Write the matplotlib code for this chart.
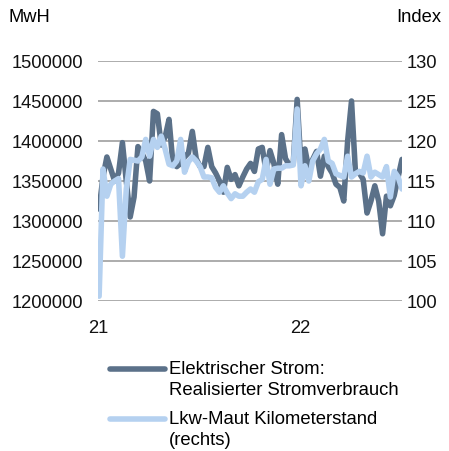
import matplotlib
matplotlib.use("Agg")
import matplotlib.pyplot as plt
from matplotlib.lines import Line2D
import pandas as pd

# weekly values, Jan 2021 - Jun 2022
weeks = pd.date_range("2021-01-03", periods=79, freq="W")

strom = [
    1315000, 1355000, 1380000, 1365000, 1350000, 1360000, 1398000, 1350000,
    1305000, 1330000, 1393000, 1385000, 1375000, 1350000, 1437000, 1434000,
    1395000, 1405000, 1427000, 1372000, 1368000, 1372000, 1380000, 1385000,
    1412000, 1378000, 1368000, 1368000, 1392000, 1368000, 1360000, 1350000,
    1336000, 1367000, 1352000, 1358000, 1344000, 1355000, 1365000, 1372000,
    1362000, 1390000, 1392000, 1362000, 1388000, 1372000, 1346000, 1408000,
    1378000, 1370000, 1372000, 1452000, 1368000, 1390000, 1365000, 1377000,
    1387000, 1356000, 1381000, 1368000, 1360000, 1346000, 1342000, 1325000,
    1400000, 1450000, 1362000, 1360000, 1352000, 1310000, 1325000, 1344000,
    1325000, 1284000, 1331000, 1319000, 1332000, 1355000, 1377000,
]

maut = [
    100.6, 116.5, 113.1, 114.6, 115.0, 115.3, 105.6, 114.0,
    117.7, 117.6, 117.5, 118.0, 120.2, 118.1, 120.2, 119.2,
    120.6, 119.0, 117.1, 116.9, 117.5, 120.2, 116.1, 117.4,
    118.0, 117.5, 116.8, 115.5, 115.5, 115.4, 114.2, 113.6,
    114.4, 113.5, 112.8, 113.4, 113.1, 113.1, 113.6, 114.0,
    113.6, 114.9, 115.2, 117.7, 114.6, 116.5, 116.6, 116.6,
    116.9, 116.9, 117.0, 124.0, 114.4, 116.9, 115.0, 117.5,
    118.4, 119.0, 120.2, 117.5, 117.2, 115.9, 115.7, 115.5,
    118.1, 115.5, 115.9, 116.2, 116.0, 118.1, 115.5, 116.1,
    115.8, 115.5, 116.8, 113.0, 116.2, 115.5, 114.0,
]

left_ticks = [1200000, 1250000, 1300000, 1350000, 1400000, 1450000, 1500000]
right_ticks = [100, 105, 110, 115, 120, 125, 130]
year_ticks = pd.to_datetime(["2021-01-01", "2022-01-01"])
year_labels = ["21", "22"]

dark = "#5b7189"
light = "#b5d1f0"
grid_col = "#a6a6a6"
fs = 13.2

plt.rcParams["font.family"] = ["Liberation Sans", "DejaVu Sans"]

fig = plt.figure(figsize=(4.49, 4.52), dpi=100)
ax = fig.add_axes([98 / 449, 1 - 302 / 452, 304 / 449, 240 / 452])
ax2 = ax.twinx()

ax.plot(weeks, strom, color=dark, linewidth=4.0, solid_joinstyle="round",
        solid_capstyle="round", zorder=3)
ax2.plot(weeks, maut, color=light, linewidth=4.0, solid_joinstyle="round",
         solid_capstyle="round", zorder=4)

ax.set_ylim(1200000, 1500000)
ax2.set_ylim(100, 130)
ax.set_yticks(left_ticks)
ax.set_yticklabels([str(v) for v in left_ticks])
ax2.set_yticks(right_ticks)
ax.set_xticks(year_ticks)
ax.set_xticklabels(year_labels)
ax.set_xlim(pd.Timestamp("2021-01-01"), weeks[-1])

for v in left_ticks:
    ax.axhline(v, color=grid_col, linewidth=1.3, zorder=1)

for a in (ax, ax2):
    for s in a.spines.values():
        s.set_visible(False)
    a.tick_params(length=0, labelsize=fs, colors="#111111")
ax.tick_params(axis="y", pad=11)
ax.tick_params(axis="x", pad=13)
ax2.tick_params(axis="y", pad=3)

fig.text(8 / 449, 1 - 18 / 452, "MwH", fontsize=fs, va="center", ha="left")
fig.text(441 / 449, 1 - 18 / 452, "Index", fontsize=fs, va="center", ha="right")

# legend below the chart
entries = [
    (dark, "Elektrischer Strom:\nRealisierter Stromverbrauch", 370),
    (light, "Lkw-Maut Kilometerstand\n(rechts)", 420),
]
for col, label, ypix in entries:
    y = 1 - ypix / 452
    fig.add_artist(Line2D([110 / 449, 165 / 449], [y, y], color=col,
                          linewidth=4.0, solid_capstyle="round"))
    fig.text(169 / 449, y + 9 / 452, label, fontsize=13.3, va="top", ha="left",
             linespacing=1.28)

fig.savefig("out.png", dpi=100)
